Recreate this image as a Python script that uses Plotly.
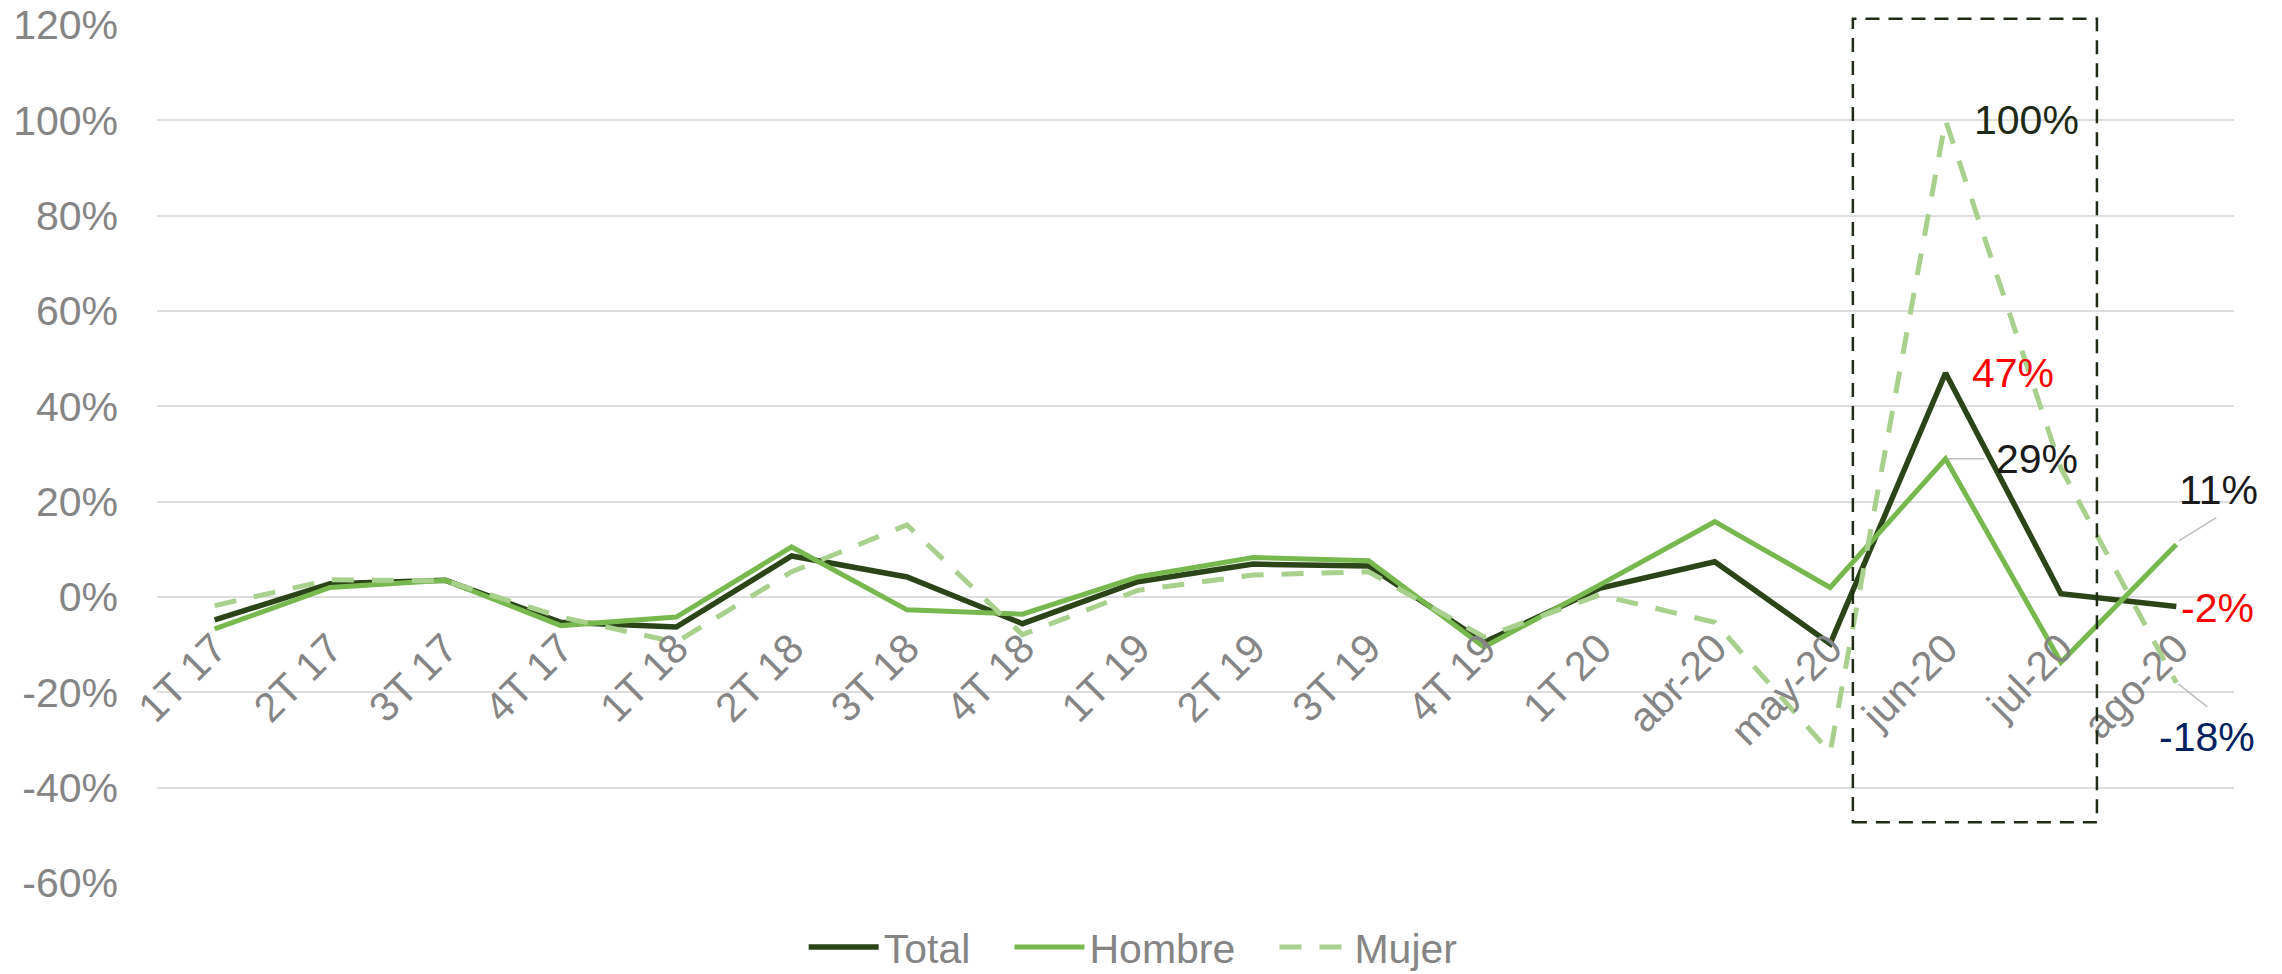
import plotly.graph_objects as go

categories = ["1T 17", "2T 17", "3T 17", "4T 17", "1T 18", "2T 18", "3T 18", "4T 18",
              "1T 19", "2T 19", "3T 19", "4T 19", "1T 20", "abr-20", "may-20",
              "jun-20", "jul-20", "ago-20"]
total = [-4.8, 2.8, 3.5, -5.3, -6.3, 8.6, 4.2, -5.6, 3.2, 6.9, 6.5, -9.5, 1.8, 7.4, -9.8, 47, 0.7, -2]
hombre = [-6.7, 2.0, 3.5, -6.0, -4.2, 10.5, -2.7, -3.6, 4.2, 8.3, 7.6, -10.5, 2.5, 15.8, 2.0, 29, -13.7, 11]
mujer = [-1.8, 3.6, 3.4, -4.2, -9.5, 5.3, 15.1, -7.9, 1.4, 4.6, 5.3, -8.4, 0.4, -5.3, -32.6, 100, 27, -18]

y_ticks = [-60, -40, -20, 0, 20, 40, 60, 80, 100, 120]
y_tick_text = [f"{v}%" for v in y_ticks]

FONT = "Arial, 'Liberation Sans', sans-serif"
GRAY = "#858585"
C_TOTAL = "#2B4519"
C_HOMBRE = "#78B94F"
C_MUJER = "#A9D18E"
NB = "\u00a0"

fig = go.Figure()
fig.add_trace(go.Scatter(x=categories, y=total, name="Total" + NB * 3, mode="lines",
                         line=dict(color=C_TOTAL, width=5.5)))
fig.add_trace(go.Scatter(x=categories, y=hombre, name="Hombre" + NB * 3, mode="lines",
                         line=dict(color=C_HOMBRE, width=5)))
fig.add_trace(go.Scatter(x=categories, y=mujer, name="Mujer", mode="lines",
                         line=dict(color=C_MUJER, width=5, dash="22px,18px")))

# value labels
labels = [
    # (category, value, text, color, xanchor, xshift, yshift)
    ("jun-20", mujer[15], "100%", "#1D2A15", "left", 26, 0),
    ("jun-20", total[15], "47%", "#FF0000", "left", 24, 0),
    ("jun-20", hombre[15], "29%", "#1A1A1A", "left", 48, 0),
    ("ago-20", hombre[17], "11%", "#1A1A1A", "left", 1, 55),
    ("ago-20", total[17], "-2%", "#FF0000", "left", 3, -1),
    ("ago-20", mujer[17], "-18%", "#002060", "center", 31, -54),
]
for cat, val, txt, col, xa, xs, ys in labels:
    fig.add_annotation(x=cat, y=val, xref="x", yref="y", text=txt, showarrow=False,
                       xanchor=xa, yanchor="middle", xshift=xs, yshift=ys,
                       font=dict(family=FONT, size=41, color=col))

# leader lines (pixel offsets from data points)
leaders = [
    ("jun-20", hombre[15], 2, 0, 39, 0),
    ("ago-20", hombre[17], 3, 4, 40, 27),
    ("ago-20", mujer[17], 2, -1, 31, -24),
]
for cat, val, x0, y0, x1, y1 in leaders:
    fig.add_shape(type="line", xref="x", yref="y", xsizemode="pixel", ysizemode="pixel",
                  xanchor=cat, yanchor=val, x0=x0, y0=y0, x1=x1, y1=y1,
                  line=dict(color="#BFBFBF", width=1.5))

# dashed highlight box
fig.add_shape(type="rect", xref="paper", yref="paper", x0=0.8165, x1=0.9340, y0=0.0708, y1=1.0073,
              line=dict(color="#1F2D16", width=2.5, dash="14px,9px"), fillcolor="rgba(0,0,0,0)")

fig.update_layout(
    width=2282, height=974,
    margin=dict(l=157, r=48, t=25, b=91, autoexpand=False),
    paper_bgcolor="white", plot_bgcolor="white",
    font=dict(family=FONT, size=41, color=GRAY),
    showlegend=True,
    legend=dict(orientation="h", x=0.47, xanchor="center", y=-0.075, yanchor="middle",
                font=dict(family=FONT, size=41, color=GRAY), bgcolor="rgba(0,0,0,0)",
                itemwidth=70, tracegroupgap=0),
    xaxis=dict(type="category", categoryorder="array", categoryarray=categories,
               range=[-0.5, len(categories) - 0.5],
               anchor="free", position=1/3, showline=False, showgrid=False, zeroline=False,
               ticks="", tickangle=-45, ticklabelstandoff=18, automargin=False,
               tickfont=dict(family=FONT, size=41, color=GRAY)),
    yaxis=dict(range=[-60, 120], tickmode="array", tickvals=y_ticks, ticktext=y_tick_text,
               showgrid=True, gridcolor="#DEDEDE", gridwidth=1.5,
               zeroline=True, zerolinecolor="#DEDEDE", zerolinewidth=1.5,
               showline=False, ticks="", ticklabelstandoff=38, automargin=False,
               tickfont=dict(family=FONT, size=41, color=GRAY)),
)

fig.write_html("out.html", config={"displayModeBar": False},
               post_script="document.body.style.margin='0';")
